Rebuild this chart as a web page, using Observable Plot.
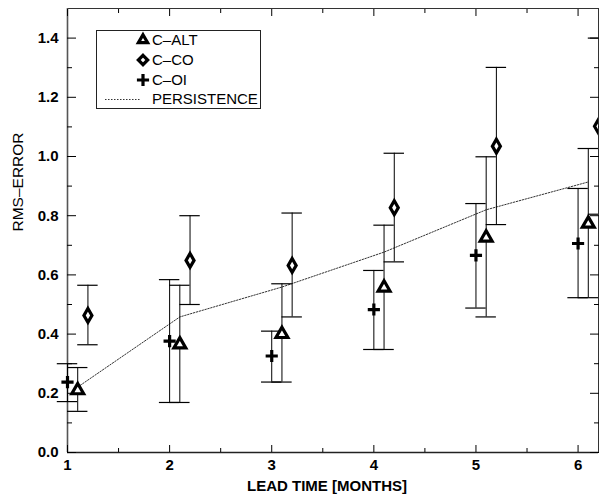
<!DOCTYPE html>
<html><head><meta charset="utf-8">
<script src="https://cdn.jsdelivr.net/npm/d3@7"></script>
<script src="https://cdn.jsdelivr.net/npm/@observablehq/plot@0.6"></script>
<style>
body{margin:0;background:#fff;}
#wrap{position:relative;width:600px;height:498px;}
#legend{position:absolute;left:0;top:0;pointer-events:none;}
</style></head><body><div id="wrap"></div>
<script>
// ---- data ----
const leads = [1, 2, 3, 4, 5, 6];
const xTicks = [1, 2, 3, 4, 5, 6];
const xMinorTicks = [1.5, 2.5, 3.5, 4.5, 5.5];
const yTicks = [0, 0.2, 0.4, 0.6, 0.8, 1.0, 1.2, 1.4];
const yMinorTicks = [0.1, 0.3, 0.5, 0.7, 0.9, 1.1, 1.3];

const seriesNames = ["C–ALT", "C–CO", "C–OI"];
const seriesDodge = [0.1, 0.2, 0.0]; // horizontal offset in months

const altY  = [0.210, 0.365, 0.400, 0.557, 0.726, 0.773];
const altLo = [0.139, 0.169, 0.238, 0.348, 0.458, 0.523];
const altHi = [0.287, 0.565, 0.570, 0.768, 0.999, 1.027];

const coY  = [0.463, 0.649, 0.632, 0.827, 1.035, 1.102];
const coLo = [0.364, 0.500, 0.458, 0.644, 0.770, 0.805];
const coHi = [0.565, 0.800, 0.809, 1.011, 1.301, 1.400];

const oiY  = [0.238, 0.376, 0.326, 0.483, 0.666, 0.706];
const oiLo = [0.172, 0.169, 0.238, 0.348, 0.488, 0.523];
const oiHi = [0.300, 0.584, 0.410, 0.615, 0.841, 0.892];

const persistenceName = "PERSISTENCE";
const persistenceDodge = 0.1;
const persistence = [0.221, 0.458, 0.559, 0.677, 0.820, 0.914];

// ---- tables ----
const seriesVals = [[altY, altLo, altHi], [coY, coLo, coHi], [oiY, oiLo, oiHi]];
const rows = [];
seriesNames.forEach((name, s) => {
  leads.forEach((t, i) => {
    rows.push({series: name, x: t + seriesDodge[s], y: seriesVals[s][0][i], lo: seriesVals[s][1][i], hi: seriesVals[s][2][i]});
  });
});
const persistRows = leads.map((t, i) => ({x: t + persistenceDodge, y: persistence[i]}));
const capHalf = 0.1;
const alt = rows.filter(d => d.series === seriesNames[0]);
const co = rows.filter(d => d.series === seriesNames[1]);
const oi = rows.filter(d => d.series === seriesNames[2]);

const font = "'Liberation Sans', Arial, Helvetica, sans-serif";

function bars(data, clip) {
  return [
    Plot.ruleX(data, {x: "x", y1: "lo", y2: "hi", stroke: "#000", strokeWidth: 1, clip}),
    Plot.ruleY(data, {y: "lo", x1: d => d.x - capHalf, x2: d => d.x + capHalf, stroke: "#000", strokeWidth: 1.2, clip}),
    Plot.ruleY(data, {y: "hi", x1: d => d.x - capHalf, x2: d => d.x + capHalf, stroke: "#000", strokeWidth: 1.2, clip})
  ];
}

const chart = Plot.plot({
  width: 600,
  height: 498,
  marginLeft: 67,
  marginRight: 2,
  marginTop: 8,
  marginBottom: 46,
  style: {fontFamily: font, fontSize: "15px", background: "#fff", color: "#000"},
  x: {domain: [1, 6.2]},
  y: {domain: [0, 1.5]},
  marks: [
    Plot.frame({stroke: "#333", strokeWidth: 1}),
    Plot.ruleY([0], {stroke: "#222", strokeWidth: 1.6}),
    Plot.ruleX([1], {stroke: "#555", strokeWidth: 1.6}),
    // ticks (inward)
    Plot.axisX({anchor: "bottom", ticks: xTicks, tickSize: -7, fill: "none", label: null}),
    Plot.axisX({anchor: "bottom", ticks: xMinorTicks, tickSize: -4, fill: "none", label: null}),
    Plot.axisX({anchor: "top", ticks: xTicks, tickSize: -7, fill: "none", label: null}),
    Plot.axisX({anchor: "top", ticks: xMinorTicks, tickSize: -4, fill: "none", label: null}),
    Plot.axisY({anchor: "left", ticks: yTicks, tickSize: -9, fill: "none", label: null}),
    Plot.axisY({anchor: "left", ticks: yMinorTicks, tickSize: -5, fill: "none", label: null}),
    Plot.axisY({anchor: "right", ticks: yTicks, tickSize: -9, fill: "none", label: null}),
    Plot.axisY({anchor: "right", ticks: yMinorTicks, tickSize: -5, fill: "none", label: null}),
    // tick labels
    Plot.axisX({anchor: "bottom", ticks: xTicks, tickSize: 0, tickPadding: 7, tickFormat: d3.format("d"), label: null, fontWeight: "bold", fontSize: 15}),
    Plot.axisY({anchor: "left", ticks: yTicks, tickSize: 0, tickPadding: 9, tickFormat: d3.format(".1f"), label: null, fontWeight: "bold", fontSize: 15}),
    // axis titles
    Plot.text(["LEAD TIME [MONTHS]"], {frameAnchor: "bottom", dx: -6, dy: 38, fontWeight: "bold", fontSize: 15}),
    Plot.text(["RMS–ERROR"], {frameAnchor: "left", rotate: -90, dx: -49, dy: 1, fontSize: 15.5}),
    // persistence
    Plot.line(persistRows, {x: "x", y: "y", stroke: "#333", strokeWidth: 1, strokeDasharray: "1.5,1.5"}),
    // error bars
    ...bars(oi, false),
    ...bars(alt, false),
    ...bars(co, true),
    // markers
    Plot.dot(alt, {x: "x", y: "y", symbol: "triangle", r: 4.4, stroke: "#000", strokeWidth: 3.2, fill: "#fff"}),
    Plot.dot(co, {x: "x", y: "y", symbol: "diamond", r: 4.2, stroke: "#000", strokeWidth: 3.2, fill: "#fff", clip: true}),
    Plot.dot(oi, {x: "x", y: "y", symbol: "plus", r: 4, stroke: "#000", strokeWidth: 3.2})
  ]
});
const wrap = document.getElementById("wrap");
wrap.appendChild(chart);

// ---- legend overlay ----
const lg = d3.select(wrap).append("svg").attr("id", "legend").attr("width", 600).attr("height", 498)
  .style("font-family", font);
lg.append("rect").attr("x", 96.5).attr("y", 30.5).attr("width", 164).attr("height", 78)
  .attr("fill", "#fff").attr("stroke", "#222").attr("stroke-width", 1);
const legendSymbols = [d3.symbolTriangle2, d3.symbolDiamond2, d3.symbolPlus];
const legendSizes = [Math.PI * 4.4 * 4.4, Math.PI * 4.2 * 4.2, Math.PI * 16];
seriesNames.forEach((name, i) => {
  const cy = 40 + i * 20;
  lg.append("path").attr("d", d3.symbol(legendSymbols[i], legendSizes[i])())
    .attr("transform", `translate(143,${cy})`)
    .attr("fill", i === 2 ? "none" : "#fff").attr("stroke", "#000").attr("stroke-width", 3.2);
  lg.append("text").attr("x", 152).attr("y", cy).attr("dy", "0.36em").attr("font-size", 15).text(name);
});
lg.append("line").attr("x1", 105).attr("x2", 140).attr("y1", 99.5).attr("y2", 99.5)
  .attr("stroke", "#333").attr("stroke-width", 1).attr("stroke-dasharray", "1.5,1.5");
lg.append("text").attr("x", 152).attr("y", 99).attr("dy", "0.36em").attr("font-size", 15).text(persistenceName);
</script>
</body></html>
